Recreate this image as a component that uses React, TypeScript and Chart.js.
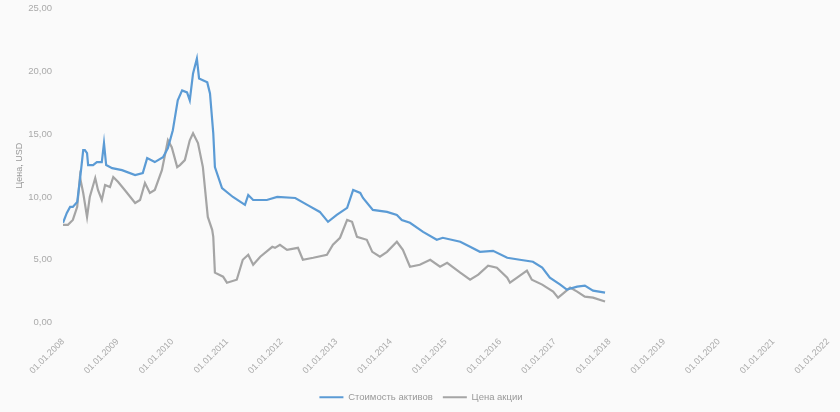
import React, { useEffect, useRef } from "react";
import { Chart, registerables } from "chart.js";

Chart.register(...registerables);

// Dates as decimal years
const blueYears = [
  2008.0, 2008.07, 2008.13, 2008.18, 2008.26, 2008.31, 2008.37, 2008.4, 2008.44, 2008.46,
  2008.55, 2008.62, 2008.71, 2008.75, 2008.79, 2008.9, 2009.08, 2009.32, 2009.46, 2009.54,
  2009.68, 2009.83, 2009.92, 2010.01, 2010.1, 2010.18, 2010.27, 2010.32, 2010.38, 2010.45,
  2010.49, 2010.64, 2010.69, 2010.75, 2010.78, 2010.91, 2011.11, 2011.33, 2011.39, 2011.48,
  2011.73, 2011.92, 2012.25, 2012.47, 2012.7, 2012.85, 2013.01, 2013.2, 2013.31, 2013.44,
  2013.49, 2013.67, 2013.93, 2014.11, 2014.2, 2014.35, 2014.59, 2014.84, 2014.95, 2015.27,
  2015.45, 2015.63, 2015.87, 2016.13, 2016.36, 2016.6, 2016.77, 2016.91, 2017.1, 2017.22,
  2017.41, 2017.55, 2017.7, 2017.92,
];
const blueValues = [
  7.94, 8.73, 9.21, 9.21, 9.6, 11.35, 13.73, 13.73, 13.49, 12.54,
  12.54, 12.78, 12.78, 14.29, 12.54, 12.3, 12.14, 11.75, 11.9, 13.1,
  12.78, 13.17, 13.89, 15.32, 17.7, 18.49, 18.33, 17.7, 19.84, 21.03,
  19.44, 19.13, 18.25, 15.08, 12.38, 10.71, 10.0, 9.37, 10.16, 9.76,
  9.76, 10.0, 9.92, 9.37, 8.81, 8.02, 8.57, 9.13, 10.56, 10.32,
  9.92, 8.97, 8.81, 8.57, 8.17, 7.94, 7.22, 6.59, 6.75, 6.43,
  6.03, 5.63, 5.71, 5.16, 5.0, 4.84, 4.37, 3.57, 3.02, 2.62,
  2.86, 2.94, 2.54, 2.38,
];

const grayYears = [
  2008.0, 2008.09, 2008.18, 2008.26, 2008.31, 2008.37, 2008.44, 2008.49, 2008.59, 2008.64,
  2008.71, 2008.77, 2008.86, 2008.92, 2009.01, 2009.13, 2009.32, 2009.41, 2009.5, 2009.59,
  2009.68, 2009.81, 2009.92, 2009.99, 2010.09, 2010.14, 2010.23, 2010.32, 2010.38, 2010.47,
  2010.56, 2010.65, 2010.73, 2010.75, 2010.78, 2010.93, 2011.0, 2011.18, 2011.29, 2011.39,
  2011.48, 2011.61, 2011.83, 2011.88, 2011.97, 2012.1, 2012.3, 2012.39, 2012.58, 2012.83,
  2012.94, 2013.07, 2013.2, 2013.29, 2013.38, 2013.56, 2013.66, 2013.8, 2013.93, 2014.11,
  2014.22, 2014.35, 2014.53, 2014.72, 2014.9, 2015.03, 2015.27, 2015.45, 2015.6, 2015.78,
  2015.94, 2016.13, 2016.18, 2016.31, 2016.49, 2016.58, 2016.77, 2016.97, 2017.06, 2017.15,
  2017.28, 2017.41, 2017.55, 2017.7, 2017.92,
];
const grayValues = [
  7.78, 7.78, 8.17, 9.21, 11.59, 10.32, 8.41, 10.0, 11.51, 10.56,
  9.76, 10.95, 10.79, 11.59, 11.19, 10.56, 9.52, 9.76, 11.11, 10.32,
  10.56, 12.14, 14.52, 13.97, 12.38, 12.54, 12.94, 14.52, 15.08, 14.29,
  12.38, 8.41, 7.38, 6.83, 3.97, 3.65, 3.17, 3.41, 5.0, 5.4,
  4.6, 5.24, 6.03, 5.95, 6.19, 5.79, 5.95, 5.0, 5.16, 5.4,
  6.19, 6.75, 8.17, 8.02, 6.83, 6.59, 5.63, 5.24, 5.63, 6.43,
  5.79, 4.44, 4.6, 5.0, 4.44, 4.76, 3.97, 3.41, 3.81, 4.52,
  4.37, 3.57, 3.17, 3.57, 4.13, 3.41, 3.02, 2.46, 1.98, 2.3,
  2.78, 2.46, 2.06, 1.98, 1.67,
];

const seriesNames = ["Стоимость активов", "Цена акции"];
const xStartYear = 2008;
const xEndYear = 2022;
const yTicksMax = 25;
const yStep = 5;
const yTitle = "Цена, USD";

// target plot-area edges (layout only)
const PLOT_LEFT = 63;
const PLOT_RIGHT = 828;
const PAD_LEFT = 14;

export default function App() {
  const ref = useRef<HTMLCanvasElement | null>(null);

  useEffect(() => {
    if (!ref.current) return;
    const family = "'Liberation Sans', Arial, sans-serif";
    const chart = new Chart(ref.current, {
      type: "line",
      data: {
        datasets: [
          {
            label: seriesNames[0],
            data: blueYears.map((x, i) => ({ x, y: blueValues[i] })),
            borderColor: "#5b9bd5",
            backgroundColor: "#5b9bd5",
            borderWidth: 2.2,
            pointRadius: 0,
            tension: 0,
          },
          {
            label: seriesNames[1],
            data: grayYears.map((x, i) => ({ x, y: grayValues[i] })),
            borderColor: "#a5a5a5",
            backgroundColor: "#a5a5a5",
            borderWidth: 2.2,
            pointRadius: 0,
            tension: 0,
          },
        ],
      },
      options: {
        animation: false,
        responsive: true,
        maintainAspectRatio: false,
        layout: { padding: { top: 4, right: 12, left: PAD_LEFT, bottom: 0 } },
        plugins: {
          tooltip: { enabled: false },
          legend: {
            position: "bottom",
            labels: {
              usePointStyle: true,
              pointStyle: "line",
              pointStyleWidth: 24,
              color: "#999",
              font: { family, size: 9.5 },
              padding: 10,
            },
          },
        },
        scales: {
          x: {
            type: "linear",
            min: xStartYear,
            max: xEndYear,
            grid: { display: false, drawTicks: true, tickLength: 11 },
            border: { display: false },
            ticks: {
              stepSize: 1,
              autoSkip: false,
              minRotation: 45,
              maxRotation: 45,
              color: "#aaa",
              font: { family, size: 9 },
              padding: 3,
              callback: (v: any) => `01.01.${v}`,
            },
            afterFit: (s: any) => {
              s.height = 60;
            },
          },
          y: {
            min: 0,
            max: yTicksMax,
            grid: { display: false, drawTicks: true, tickLength: 8 },
            border: { display: false },
            title: { display: true, text: yTitle, color: "#999", font: { family, size: 9 }, padding: { top: 0, bottom: 0 } },
            ticks: {
              stepSize: yStep,
              color: "#aaa",
              font: { family, size: 9.5 },
              padding: 3,
              callback: (v: any) => Number(v).toFixed(2).replace(".", ","),
            },
            afterFit: (s: any) => {
              s.width = PLOT_LEFT - PAD_LEFT;
            },
          },
        },
      },
    });
    // correct the right padding so the plot area ends where the reference has it
    const pad: any = (chart.options.layout as any).padding;
    const ca = chart.chartArea;
    if (Math.abs(ca.right - PLOT_RIGHT) > 0.5) {
      pad.right = Math.max(0, pad.right + (ca.right - PLOT_RIGHT));
      chart.update();
    }
    return () => chart.destroy();
  }, []);

  return (
    <div
      style={{
        position: "fixed",
        left: 0,
        top: 0,
        width: 840,
        height: 412,
        background: "#fafafa",
      }}
    >
      <canvas ref={ref} />
    </div>
  );
}
